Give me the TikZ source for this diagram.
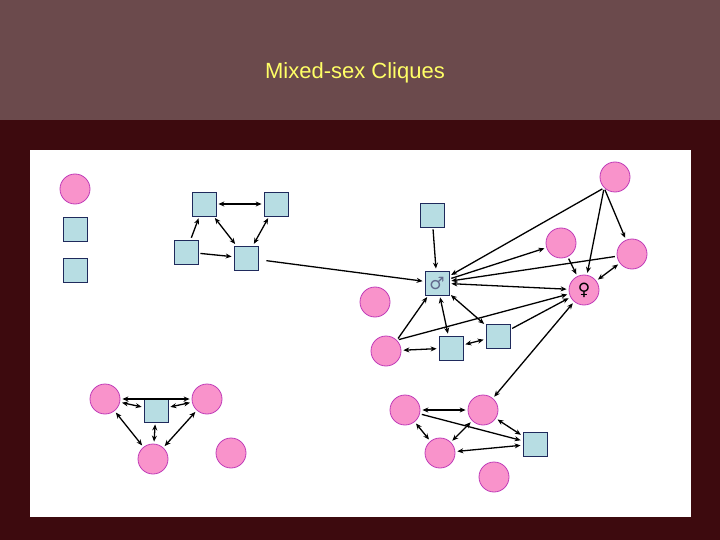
\documentclass[tikz,border=0pt]{standalone}
\usepackage{fontspec}
\setmainfont{Liberation Sans}
\newfontfamily\symf{DejaVu Sans}
\usetikzlibrary{arrows.meta}
\definecolor{topband}{HTML}{6B4A4C}
\definecolor{maroon}{HTML}{3D0A0E}
\definecolor{pinkf}{HTML}{F993CB}
\definecolor{pinkd}{HTML}{C03CB8}
\definecolor{sqf}{HTML}{B7DDE3}
\definecolor{sqd}{HTML}{1F2A5C}
\definecolor{ttl}{HTML}{FFFF66}
\tikzset{
 fem/.style={circle,fill=pinkf,draw=pinkd,line width=0.8pt,minimum size=30pt,inner sep=0pt},
 mal/.style={rectangle,fill=sqf,draw=sqd,line width=0.8pt,minimum size=24pt,inner sep=0pt},
 ed/.style={line width=1.3pt,black,shorten >=2pt,shorten <=2pt,-{Stealth[length=6pt,width=5pt]}},
 bi/.style={ed,{Stealth[length=6pt,width=5pt]}-{Stealth[length=6pt,width=5pt]}},
 pl/.style={ed,-}
}
\begin{document}
\begin{tikzpicture}[x=1pt,y=-1pt]
\useasboundingbox (0,0) rectangle (720,540);
\fill[maroon] (0,0) rectangle (720,540);
\fill[topband] (0,0) rectangle (720,120);
\fill[white] (30,150) rectangle (691,517);
\node[text=ttl,font=\fontsize{22}{26}\selectfont] (title) at (355,73) {Mixed-sex Cliques};
% legend-ish isolated
\node[fem] (l1) at (75,189) {};
\node[mal] (l2) at (75,229) {};
\node[mal] (l3) at (75,270) {};
% top group
\node[mal] (A) at (204,204) {};
\node[mal] (B) at (276,204) {};
\node[mal] (C) at (186,252) {};
\node[mal] (D) at (246,258) {};
% central
\node[mal,font=\symf\fontsize{17}{17}\selectfont,text=sqd!70] (M) at (437,283) {♂};
\node[mal] (Mt) at (432,215) {};
\node[fem] (P1) at (615,177) {};
\node[fem] (P2) at (561,243) {};
\node[fem] (P3) at (632,254) {};
\node[fem,font=\symf\fontsize{17}{17}\selectfont] (F) at (584,290) {♀};
\node[fem] (c1) at (375,302) {};
\node[fem] (c2) at (386,351) {};
\node[mal] (S1) at (451,348) {};
\node[mal] (S2) at (498,336) {};
% bottom right
\node[fem] (Q1) at (405,410) {};
\node[fem] (Q2) at (483,410) {};
\node[fem] (Q3) at (440,453) {};
\node[fem] (Q4) at (494,477) {};
\node[mal] (T) at (535,444) {};
% bottom left
\node[fem] (R1) at (105,399) {};
\node[fem] (R2) at (207,399) {};
\node[fem] (R3) at (153,459) {};
\node[mal] (U) at (156,410) {};
\node[fem] (R4) at (231,453) {};
% edges top group
\draw[bi] (A) -- (B);
\draw[ed] (C) -- (A);
\draw[bi] (A) -- (D);
\draw[bi] (B) -- (D);
\draw[ed] (C) -- (D);
\draw[ed,shorten <=8pt] (D) -- (M);
% central
\draw[ed] (Mt) -- (M);
\draw[ed] (P1.south west) -- (M);
\draw[ed] (P1.south west) -- (F);
\draw[ed] (P1.south west) -- (P3);
\draw[ed] (M) -- (P2);
\draw[ed] (P3) -- (M);
\draw[bi] (M) -- (F);
\draw[ed] (P2) -- (F);
\draw[bi] (F) -- (P3);
\draw[ed] (c2.north east) -- (M);
\draw[ed] (c2.north east) -- (F);
\draw[bi] (M) -- (S1);
\draw[bi] (M) -- (S2);
\draw[bi] (c2) -- (S1);
\draw[bi] (S1) -- (S2);
\draw[ed] (S2) -- (F);
\draw[bi] (Q2) -- (F);
% bottom right
\draw[bi] (Q1) -- (Q2);
\draw[ed] (Q1) -- (T);
\draw[bi] (Q2) -- (T);
\draw[bi] (Q2) -- (Q3);
\draw[bi] (Q3) -- (T);
\draw[bi] (Q1) -- (Q3);
% bottom left
\draw[bi] (R1) -- (R2);
\draw[bi] (R1) -- (U);
\draw[bi] (R2) -- (U);
\draw[bi] (U) -- (R3);
\draw[bi] (R1) -- (R3);
\draw[bi] (R2) -- (R3);
\end{tikzpicture}
\end{document}
